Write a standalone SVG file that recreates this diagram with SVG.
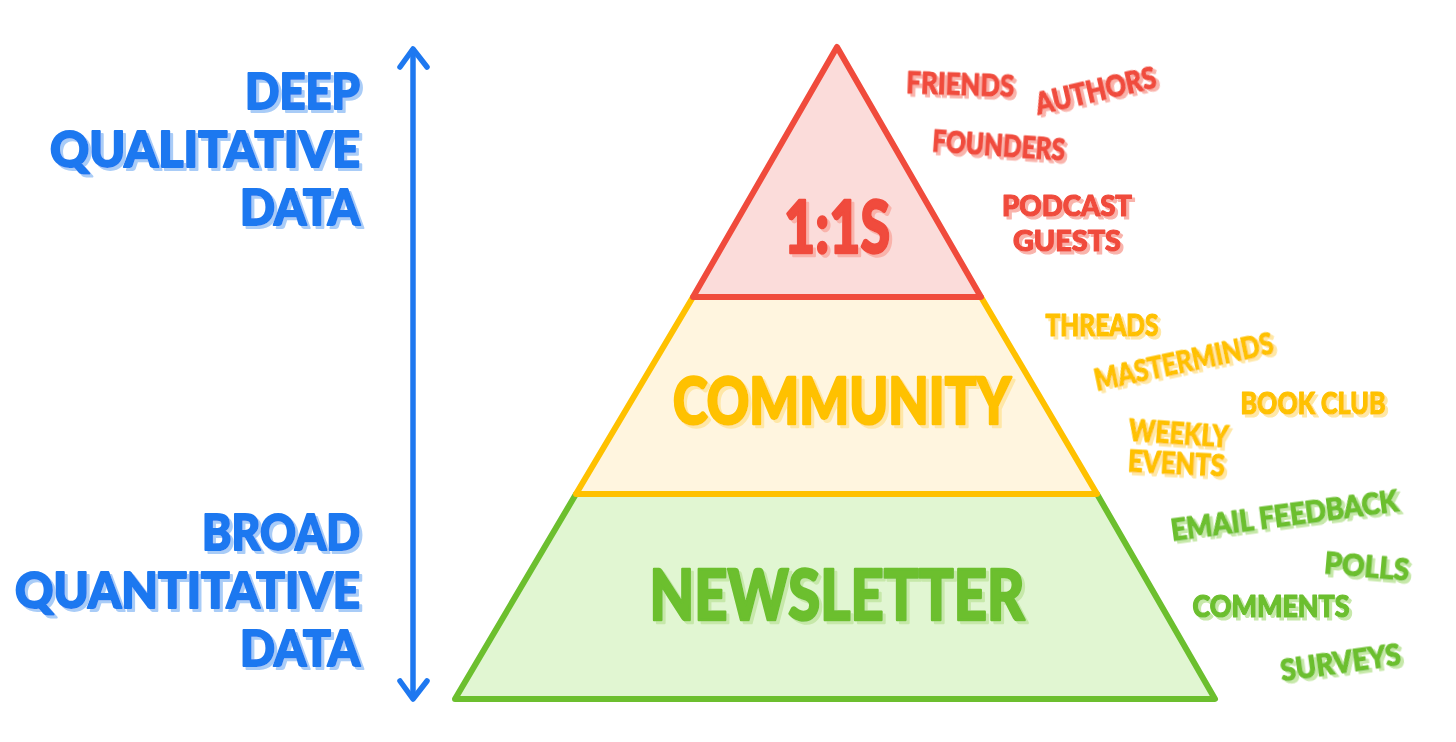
<svg xmlns="http://www.w3.org/2000/svg" width="1456" height="742" viewBox="0 0 1456 742">
<defs>
<style>
text{font-family:Lato,"Open Sans","Liberation Sans",sans-serif;font-weight:900;stroke-linejoin:round;}
.b{fill:#1E78F0;stroke:#1E78F0;stroke-width:2px;font-size:50px;text-anchor:end;filter:url(#shB);}
.r{fill:#F04B3C;stroke:#F04B3C;stroke-width:1.2px;font-size:31px;text-anchor:middle;filter:url(#shR);}
.y{fill:#FFC100;stroke:#FFC100;stroke-width:1.2px;font-size:30px;text-anchor:middle;filter:url(#shY);}
.g{fill:#6CBF2E;stroke:#6CBF2E;stroke-width:1.2px;font-size:30px;text-anchor:middle;filter:url(#shG);}
.rs{font-size:29px;}
.t1{font-size:72px;stroke-width:2.5px;}
.t2{font-size:64px;stroke-width:2.5px;}
.t3{font-size:70px;stroke-width:2.5px;}
</style>
<filter id="shB" x="-5%" y="-20%" width="115%" height="150%"><feOffset in="SourceAlpha" dx="3" dy="3" result="o"/><feFlood flood-color="#A9CCF7"/><feComposite in2="o" operator="in"/><feMerge><feMergeNode/><feMergeNode in="SourceGraphic"/></feMerge></filter>
<filter id="shR" x="-5%" y="-20%" width="115%" height="150%"><feOffset in="SourceAlpha" dx="3" dy="3" result="o"/><feFlood flood-color="#F9B3AB"/><feComposite in2="o" operator="in"/><feMerge><feMergeNode/><feMergeNode in="SourceGraphic"/></feMerge></filter>
<filter id="shY" x="-5%" y="-20%" width="115%" height="150%"><feOffset in="SourceAlpha" dx="3" dy="3" result="o"/><feFlood flood-color="#FFE7A6"/><feComposite in2="o" operator="in"/><feMerge><feMergeNode/><feMergeNode in="SourceGraphic"/></feMerge></filter>
<filter id="shG" x="-5%" y="-20%" width="115%" height="150%"><feOffset in="SourceAlpha" dx="3" dy="3" result="o"/><feFlood flood-color="#C6E8A9"/><feComposite in2="o" operator="in"/><feMerge><feMergeNode/><feMergeNode in="SourceGraphic"/></feMerge></filter>
</defs>
<rect width="1456" height="742" fill="#FFFFFF"/>

<g id="connectors">
<line x1="413" y1="50" x2="413" y2="697" stroke="#1E78F0" stroke-width="5.5" stroke-linecap="round"/>
<path d="M400,67 L413,49 L427,67" fill="none" stroke="#1E78F0" stroke-width="5.5" stroke-linecap="round" stroke-linejoin="round"/>
<path d="M400,681 L413,699 L427,681" fill="none" stroke="#1E78F0" stroke-width="5.5" stroke-linecap="round" stroke-linejoin="round"/>
</g>

<g id="axis-labels">
<text class="b" x="360" y="109" textLength="115" lengthAdjust="spacingAndGlyphs">DEEP</text>
<text class="b" x="360" y="167" textLength="310" lengthAdjust="spacingAndGlyphs">QUALITATIVE</text>
<text class="b" x="360" y="225" textLength="120" lengthAdjust="spacingAndGlyphs">DATA</text>
<text class="b" x="360" y="550" textLength="158" lengthAdjust="spacingAndGlyphs">BROAD</text>
<text class="b" x="360" y="608" textLength="345" lengthAdjust="spacingAndGlyphs">QUANTITATIVE</text>
<text class="b" x="360" y="666" textLength="120" lengthAdjust="spacingAndGlyphs">DATA</text>
</g>

<g id="newsletter">
<polygon points="576,494 1097,494 1215,699 455,699" fill="#E1F6D2" stroke="#6CBF2E" stroke-width="6" stroke-linejoin="round"/>
<text class="g t3" x="837" y="620" textLength="375" lengthAdjust="spacingAndGlyphs">NEWSLETTER</text>
</g>

<g id="community">
<polygon points="693,297 981,297 1097,494 576,494" fill="#FFF5DF" stroke="#FFC100" stroke-width="6" stroke-linejoin="round"/>
<text class="y t2" x="842" y="424" textLength="338" lengthAdjust="spacingAndGlyphs">COMMUNITY</text>
</g>

<g id="one-on-ones">
<polygon points="837,47 981,297 693,297" fill="#FBDCDA" stroke="#F04B3C" stroke-width="6" stroke-linejoin="round"/>
<text class="r t1" x="837" y="253" textLength="106" lengthAdjust="spacingAndGlyphs">1:1S</text>
</g>

<g id="red-labels">
<text class="r" x="960" y="95" textLength="108" lengthAdjust="spacingAndGlyphs" transform="rotate(2 960 95)">FRIENDS</text>
<text class="r" x="1098" y="101" textLength="123" lengthAdjust="spacingAndGlyphs" transform="rotate(-13 1098 101)">AUTHORS</text>
<text class="r" x="998" y="156" textLength="133" lengthAdjust="spacingAndGlyphs" transform="rotate(4 998 156)">FOUNDERS</text>
<text class="r rs" x="1067" y="216" textLength="130" lengthAdjust="spacingAndGlyphs">PODCAST</text>
<text class="r rs" x="1067" y="251" textLength="108" lengthAdjust="spacingAndGlyphs">GUESTS</text>
</g>

<g id="yellow-labels">
<text class="y" x="1102" y="336" textLength="113" lengthAdjust="spacingAndGlyphs">THREADS</text>
<text class="y" x="1186" y="372" textLength="182" lengthAdjust="spacingAndGlyphs" transform="rotate(-12 1186 372)">MASTERMINDS</text>
<text class="y" x="1313" y="414" textLength="145" lengthAdjust="spacingAndGlyphs">BOOK CLUB</text>
<text class="y" x="1178" y="444" textLength="100" lengthAdjust="spacingAndGlyphs" transform="rotate(4 1178 444)">WEEKLY</text>
<text class="y" x="1176" y="474" textLength="97" lengthAdjust="spacingAndGlyphs" transform="rotate(3 1176 474)">EVENTS</text>
</g>

<g id="green-labels">
<text class="g" x="1286" y="526" textLength="229" lengthAdjust="spacingAndGlyphs" transform="rotate(-7.5 1286 526)">EMAIL FEEDBACK</text>
<text class="g" x="1366" y="577" textLength="85" lengthAdjust="spacingAndGlyphs" transform="rotate(5 1366 577)">POLLS</text>
<text class="g" x="1271" y="617" textLength="157" lengthAdjust="spacingAndGlyphs">COMMENTS</text>
<text class="g" x="1342" y="673" textLength="121" lengthAdjust="spacingAndGlyphs" transform="rotate(-8 1342 673)">SURVEYS</text>
</g>
</svg>
